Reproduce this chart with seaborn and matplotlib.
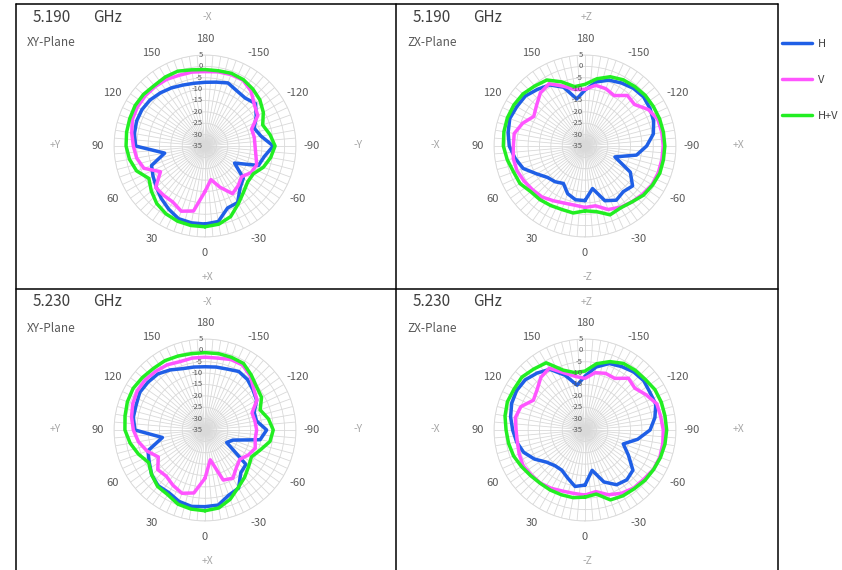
import numpy as np
import pandas as pd
import matplotlib
matplotlib.use("Agg")
import matplotlib.pyplot as plt
import seaborn as sns
from matplotlib.lines import Line2D

# Angles (deg) of the measured points, Excel-style labels: 0..180 then -170..-10
angles = list(range(0, 190, 10)) + list(range(-170, 0, 10))

# 5.190 GHz, XY-plane
xy_5190_h = [-0.7, -0.7, -1, -3, -5, -7, -8.6, -10, -17, -4.5, -3.5, -3, -3, -3.5, -4.5, -5.5, -6.5, -7, -7,
             -6.5, -5.5, -7, -7.5, -6, -9, -12, -10, -5, -8.5, -10, -20, -13, -11, -6.3, -6, -1.3]
xy_5190_v = [-15, -6, -4.5, -6.6, -6.7, -6.7, -12.4, -6.4, -4.5, -3.5, -2.3, -1, -0.7, -0.7, -0.9, -1.2, -1.9, -2, -2.3,
             -1.9, -1.6, -1.6, -3.5, -6.7, -8.2, -13.2, -13, -13, -12.3, -10.8, -11.6, -14, -12.3, -10.8, -15.7, -20]
xy_5190_hv = [0.5, 0.5, 0.2, -0.6, -2, -4.2, -6.5, -3, -1.3, -0.3, 0, 0.2, 0.5, 0.3, -0.3, 0, 0, -1, -1.4,
              -1.4, -1, -1.3, -2.3, -3.5, -5.4, -8, -6, -4.2, -5.7, -7.7, -10.5, -10.5, -8.6, -5.7, -2, -0.1]

# 5.190 GHz, ZX-plane
zx_5190_h = [-11, -11, -12.7, -16, -14.5, -13.5, -10.5, -6.1, -3.8, -1.7, -0.7, 0.2, -0.4, -0.8, -2.5, -4, -7.5, -14, -10.4,
             -6.4, -4.2, -3, -1.9, -1.4, -2, -2.9, -4.5, -7.9, -12, -21, -12, -7.7, -8.8, -7.5, -9.4, -16]
zx_5190_v = [-8, -8.6, -8.3, -7.2, -5.7, -5, -4.1, -3.2, -3, -3.5, -3.4, -5.8, -9, -7.2, -4.5, -3.4, -7, -9.8, -10.1,
             -7.9, -8.2, -9.4, -6, -6.6, -2.9, -0.9, -0.7, -0.6, -0.7, -0.7, -1, -2, -2.9, -3.9, -5.3, -8.3]
zx_5190_hv = [-6.5, -5.1, -5.3, -4.8, -4.2, -3.8, -2, -1.6, -0.3, 0.9, 1.2, 1.3, 1.1, 0.6, -0.6, -1.5, -5, -8.5, -7.9,
              -5, -2.6, -1.4, -0.9, -0.4, -0.3, -0.1, 0, 0.1, 0, 0, -0.7, -1.4, -2.9, -3.6, -2.8, -5.7]

# 5.230 GHz, XY-plane
xy_5230_h = [-1.3, -0.9, -1.6, -3.2, -3, -4.4, -6.7, -8.3, -16, -4.2, -3, -2.8, -1.9, -2.3, -2.8, -4.5, -6.3, -6.9, -7.2,
             -6.9, -6.5, -5.3, -6, -7.5, -8.8, -12, -12, -7.9, -10.4, -22, -24, -11.5, -10.5, -5.5, -4.5, -1.5]
xy_5230_v = [-13.8, -6.9, -5.4, -6.9, -8.5, -7.9, -11.3, -7.9, -5.3, -3.5, -2.2, -1.2, -0.6, -0.7, -1.3, -1.9, -3, -2.9, -3,
             -2.9, -2, -2, -4, -7, -8.6, -13, -12.7, -12.3, -12.6, -11.5, -13, -15, -13.5, -10.5, -11.6, -21.7]
xy_5230_hv = [0.5, 0.3, -0.3, -2.2, -2.6, -4.4, -6.4, -3.9, -1.6, 0.2, 0.7, 1.3, 1.5, 0.9, 0.3, 0.2, -0.4, -0.9, -1,
              -0.9, -1, -1.2, -3.4, -5.4, -6.3, -9.2, -6.7, -5, -6, -9.2, -11.4, -10, -7.9, -5.8, -2.6, -0.2]

# 5.230 GHz, ZX-plane
zx_5230_h = [-10.8, -9.8, -12.6, -14.6, -14.5, -13, -9.4, -6.3, -4.5, -3.2, -1.8, -0.7, -0.3, -0.7, -2.3, -4.2, -9.4, -15, -11.3,
             -6.9, -3.9, -2.8, -1.7, -1.3, -2, -1.9, -3.8, -6.4, -11.5, -17.1, -13, -7.5, -6.4, -7.2, -10.7, -17]
zx_5230_v = [-6.4, -6.7, -6.4, -5.4, -4.5, -4.2, -3.6, -4.2, -4.8, -4.7, -3.9, -5, -8.8, -7.5, -4.8, -3.6, -8.3, -11.1, -12.3,
             -9.4, -8.5, -8.8, -5.3, -6.4, -4, -1.4, -1.2, -0.6, -0.3, 0, -0.3, -1.3, -1.7, -2.9, -4.7, -7.5]
zx_5230_hv = [-5.5, -4.8, -4.7, -4.5, -4.4, -3.8, -2.8, -1.6, -0.9, -0.3, 0.7, 1.3, 1, 1.2, 0, -0.9, -7, -9.4, -9.1,
              -5.4, -3, -1.2, -0.7, -0.4, 0.5, 0.7, 0.7, 0.9, 0.7, 0.3, -0.2, -0.6, -1.3, -1.6, -2.3, -6.4]

pol_names = ["H", "V", "H+V"]
colors = {"H": "#1F5FE6", "V": "#FF55FF", "H+V": "#22EE22"}

W, H = 842, 570
sns.set_style("white")
plt.rcParams['font.family'] = ['Noto Sans CJK JP', 'DejaVu Sans']

fig = plt.figure(figsize=(W / 100, H / 100), dpi=100)


def fx(x):
    return x / W


def fy(y):
    return 1 - y / H


def draw_panel(cx, cy, h, v, hv):
    r = 91
    ax = fig.add_axes([fx(cx - r), fy(cy + r), 2 * r / W, 2 * r / H], projection="polar")
    theta = np.deg2rad(np.mod(angles + [angles[0] + 360], 360.0))
    theta[-1] = 2 * np.pi
    rows = []
    for name, vals in zip(pol_names, [h, v, hv]):
        closed = vals + [vals[0]]
        for t, d in zip(theta, closed):
            rows.append({"theta": t, "dB": d, "pol": name})
    df = pd.DataFrame(rows)
    sns.lineplot(data=df, x="theta", y="dB", hue="pol", hue_order=pol_names, palette=colors,
                 sort=False, estimator=None, lw=2.5, legend=False, ax=ax)
    ax.set_xlabel("")
    ax.set_ylabel("")
    ax.set_theta_zero_location("S")
    ax.set_theta_direction(-1)
    ax.set_ylim(-35, 5)
    ax.set_yticks(np.arange(-35, 6, 5))
    ax.set_yticklabels([])
    ticks = np.arange(0, 360, 5)
    ax.set_xticks(np.deg2rad(ticks))
    labs = [(str(a if a <= 180 else a - 360) if a % 30 == 0 else "") for a in ticks]
    ax.set_xticklabels(labs, fontsize=8, color="#595959")
    ax.tick_params(axis="x", pad=1)
    ax.grid(True, color="#d9d9d9", lw=0.6)
    ax.spines["polar"].set_color("#d9d9d9")
    ax.spines["polar"].set_linewidth(0.6)
    for rv in range(-35, 6, 5):
        ax.annotate(str(rv), xy=(np.pi, rv), xytext=(-1.5, 0), textcoords="offset points",
                    ha="right", va="center", fontsize=5.5, color="#595959")
    return ax


def panel_text(x0, y0, freq, plane, top, bottom, left, right, cx, cy):
    fig.text(fx(x0 + 17), fy(y0 + 13), freq, fontsize=11, color="#404040", ha="left", va="center")
    fig.text(fx(x0 + 77), fy(y0 + 13), "GHz", fontsize=11, color="#404040", ha="left", va="center")
    fig.text(fx(x0 + 11), fy(y0 + 39), plane, fontsize=8.5, color="#595959", ha="left", va="center")
    lab = dict(fontsize=7.5, color="#a6a6a6", ha="center", va="center")
    fig.text(fx(cx + 2), fy(y0 + 13), top, **lab)
    fig.text(fx(cx + 2), fy(cy + 131), bottom, **lab)
    fig.text(fx(cx - 150), fy(cy - 1), left, **lab)
    fig.text(fx(cx + 153), fy(cy - 1), right, **lab)


draw_panel(205, 146, xy_5190_h, xy_5190_v, xy_5190_hv)
draw_panel(585, 146, zx_5190_h, zx_5190_v, zx_5190_hv)
draw_panel(205, 430, xy_5230_h, xy_5230_v, xy_5230_hv)
draw_panel(585, 430, zx_5230_h, zx_5230_v, zx_5230_hv)

panel_text(16, 4, "5.190", "XY-Plane", "-X", "+X", "+Y", "-Y", 205, 146)
panel_text(396, 4, "5.190", "ZX-Plane", "+Z", "-Z", "-X", "+X", 585, 146)
panel_text(16, 289, "5.230", "XY-Plane", "-X", "+X", "+Y", "-Y", 205, 430)
panel_text(396, 289, "5.230", "ZX-Plane", "+Z", "-Z", "-X", "+X", 585, 430)

# panel borders
border = dict(color="black", lw=1.1, transform=fig.transFigure)
for y in [4, 289]:
    fig.add_artist(Line2D([fx(16), fx(778)], [fy(y), fy(y)], **border))
for x in [16, 396, 778]:
    fig.add_artist(Line2D([fx(x), fx(x)], [fy(4), fy(575)], **border))

# legend
for i, name in enumerate(pol_names):
    y = 43 + 36 * i
    fig.add_artist(Line2D([fx(782), fx(812)], [fy(y), fy(y)], color=colors[name], lw=2.5,
                          transform=fig.transFigure))
    fig.text(fx(818), fy(y + 1), name, fontsize=8, color="#404040", ha="left", va="center")

fig.savefig("out.png", dpi=100)
